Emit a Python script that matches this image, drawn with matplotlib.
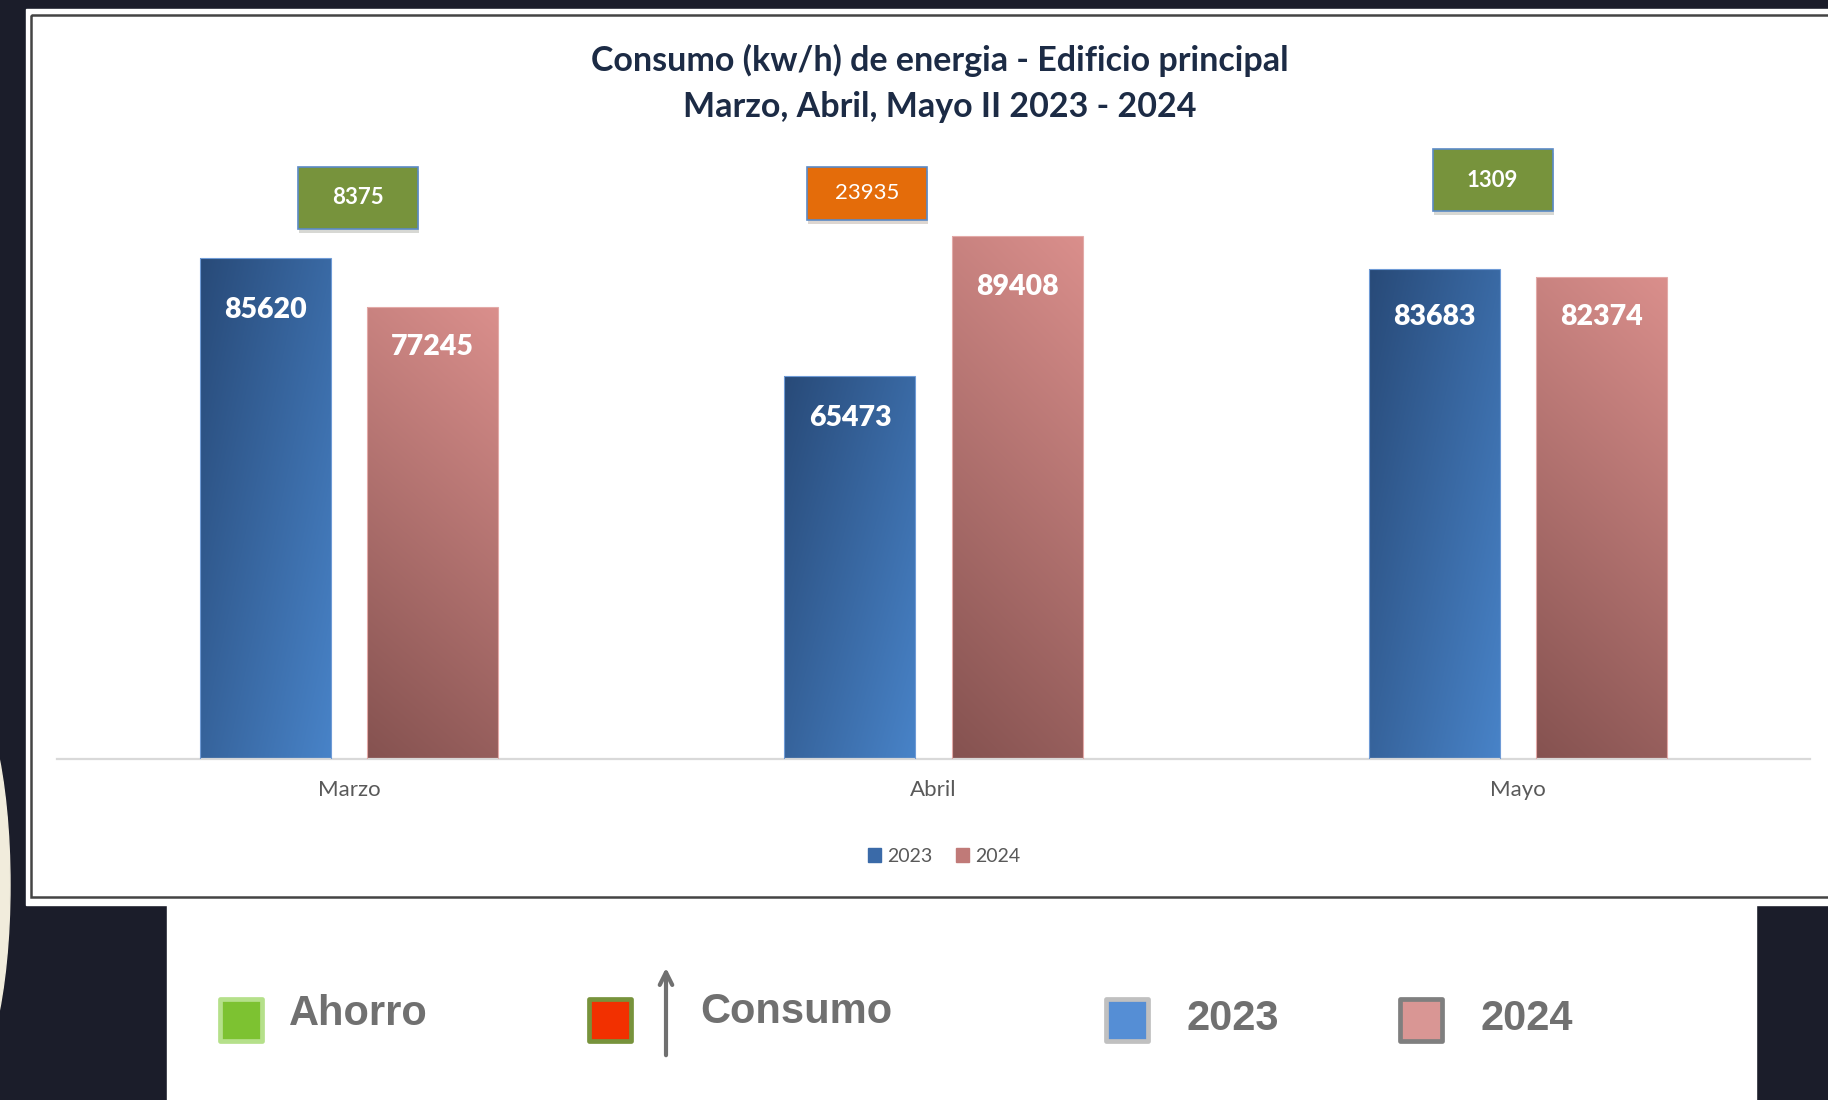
import matplotlib
matplotlib.use("Agg")

import matplotlib.pyplot as plt
import matplotlib.patheffects as pe
import numpy as np
from matplotlib.colors import to_rgb
from matplotlib.patches import Rectangle, Ellipse, Patch

# -----------------------------
# Datos
# -----------------------------

meses = ["Marzo", "Abril", "Mayo"]
consumo_2023 = [85620, 65473, 83683]
consumo_2024 = [77245, 89408, 82374]
diferencias = [8375, 23935, 1309]
tipo_diferencia = ["ahorro", "consumo", "ahorro"]

titulo = "Consumo (kw/h) de energia - Edificio principal\nMarzo, Abril, Mayo II 2023 - 2024"

leyenda_inferior = ["Ahorro", "Consumo", "2023", "2024"]

# -----------------------------
# Estilo / posiciones
# -----------------------------

W, H = 1828, 1100
FONDO = "#1b1d2a"
AZUL_OSC, AZUL_CLARO = "#284a78", "#4883c8"
ROSA_CLARO, ROSA_OSC = "#da8f8c", "#855250"
VERDE_CAJA, NARANJA_CAJA = "#77933c", "#e46c0a"

# desplazamiento de las cajas de diferencia respecto a cada mes
caja_dx = [0.015, -0.114, -0.043]
caja_y = [95900, 96700, 98970]
caja_h = [10600, 9060, 10600]
caja_w = 0.205

# distancia (px) de la etiqueta bajo el borde superior de la barra
off_2023 = [52, 42, 48]
off_2024 = [40, 51, 40]

fig = plt.figure(figsize=(W / 100, H / 100), dpi=100, facecolor=FONDO)

# -----------------------------
# Fondo en pixeles
# -----------------------------

bg = fig.add_axes([0, 0, 1, 1])
bg.set_xlim(0, W)
bg.set_ylim(H, 0)
bg.axis("off")
bg.set_zorder(0)

bg.add_patch(Ellipse((-38, 885), 96, 400, color="#f1ecdc", zorder=1))
bg.add_patch(Rectangle((26, 9), W - 26, 896, color="white", zorder=2))
bg.add_patch(Rectangle((167, 905), 1756 - 167, H - 905, color="white", zorder=2))
bg.add_patch(Rectangle((31, 15), W, 882, fill=False, edgecolor="#444444",
                       linewidth=1.8, zorder=3))

lineas = titulo.split("\n")
bg.text(940, 60, lineas[0], ha="center", va="center",
        fontsize=24.5, fontweight="bold", color="#1c2b45", family="Lato", zorder=4)
bg.text(940, 107, lineas[1], ha="center", va="center",
        fontsize=24.5, fontweight="bold", color="#1c2b45", family="Lato", zorder=4)

# leyenda inferior
cuadros = [
    (219.5, "#b5e08a", "#7dc231"),
    (588.5, "#77933c", "#f23000"),
    (1105.5, "#c0c0c0", "#558ed5"),
    (1399.5, "#7f7f7f", "#d99694"),
]
for x0, borde, relleno in cuadros:
    bg.add_patch(Rectangle((x0, 998.5), 42, 42, facecolor=relleno,
                           edgecolor=borde, linewidth=3.4, joinstyle="round",
                           zorder=4))

text_x = [289, 700, 1186, 1481]
text_base = [1025, 1023, 1030, 1030]
for lbl, tx, ty in zip(leyenda_inferior, text_x, text_base):
    bg.text(tx, ty, lbl, ha="left", va="baseline", fontsize=30,
            fontweight="bold", color="#707070", family="Liberation Sans",
            zorder=4)

bg.annotate("", xy=(666, 965), xytext=(666, 1058),
            arrowprops=dict(arrowstyle="->,head_length=0.9,head_width=0.45",
                            color="#707070", linewidth=3),
            zorder=4)

# -----------------------------
# Grafico de barras
# -----------------------------

ax = fig.add_axes([57 / W, 1 - 759 / H, (1810 - 57) / W, (759 - 174) / H])
ax.set_zorder(1)
ax.patch.set_alpha(0)

x = np.arange(len(meses))
ancho = 0.224
sep = 0.143

barras_23 = ax.bar(x - sep, consumo_2023, ancho, facecolor="none",
                   edgecolor="#6f9bd6", linewidth=0.8, zorder=3)
barras_24 = ax.bar(x + sep, consumo_2024, ancho, facecolor="none",
                   edgecolor="#e3aaa8", linewidth=0.8, zorder=3)


def degradado(barra, c0, c1, modo):
    bx, by = barra.get_x(), barra.get_y()
    bw, bh = barra.get_width(), barra.get_height()
    gx, gy = np.meshgrid(np.linspace(0, 1, 64), np.linspace(1, 0, 256))
    if modo == "azul":
        t = 0.55 * gx + 0.45 * (1 - gy)
    else:
        t = 0.8 * (1 - gy) + 0.2 * (1 - gx)
    a, b = np.array(to_rgb(c0)), np.array(to_rgb(c1))
    img = a + t[..., None] * (b - a)
    im = ax.imshow(img, extent=[bx, bx + bw, by, by + bh], aspect="auto",
                   origin="upper", zorder=2, interpolation="bilinear")
    im.set_clip_path(barra)


for b in barras_23:
    degradado(b, AZUL_OSC, AZUL_CLARO, "azul")
for b in barras_24:
    degradado(b, ROSA_CLARO, ROSA_OSC, "rosa")

for barras, valores, offs in [(barras_23, consumo_2023, off_2023),
                              (barras_24, consumo_2024, off_2024)]:
    for b, v, o in zip(barras, valores, offs):
        ax.annotate(str(v), (b.get_x() + b.get_width() / 2, v),
                    xytext=(0, -o * 0.72), textcoords="offset points",
                    ha="center", va="center", color="white", fontsize=20.5,
                    fontweight="heavy", family="Lato", zorder=5)

for i, (d, tipo) in enumerate(zip(diferencias, tipo_diferencia)):
    cx = x[i] + caja_dx[i]
    color = VERDE_CAJA if tipo == "ahorro" else NARANJA_CAJA
    caja = Rectangle((cx - caja_w / 2, caja_y[i] - caja_h[i] / 2), caja_w,
                     caja_h[i], facecolor=color, edgecolor="#5b8ac6",
                     linewidth=1.2, zorder=4, clip_on=False)
    caja.set_path_effects([pe.SimplePatchShadow(offset=(1, -3), alpha=0.18),
                           pe.Normal()])
    ax.add_patch(caja)
    ax.text(cx, caja_y[i], str(d), ha="center", va="center", color="white",
            fontsize=16, fontweight="bold" if tipo == "ahorro" else "normal",
            family="Lato", zorder=5)

ax.set_xlim(-0.5, 2.5)
ax.set_ylim(0, 100000)
ax.set_xticks(x)
ax.set_xticklabels(meses, fontsize=16, color="#595959", family="Lato")
ax.tick_params(axis="x", length=0, pad=15)
ax.set_yticks([])
for s in ["top", "left", "right"]:
    ax.spines[s].set_visible(False)
ax.spines["bottom"].set_color("#d9d9d9")
ax.spines["bottom"].set_linewidth(1.6)

fig.legend(handles=[Patch(color="#3a6aa8"), Patch(color="#c07a78")],
           labels=["2023", "2024"], loc="center",
           bbox_to_anchor=(944 / W, 1 - 856 / H), ncol=2, frameon=False,
           handlelength=0.7, handleheight=0.7,
           handletextpad=0.3, columnspacing=1.2, labelcolor="#595959",
           prop={"family": "Lato", "size": 14})

fig.savefig("out.png", dpi=100, facecolor=FONDO)
plt.close("all")
